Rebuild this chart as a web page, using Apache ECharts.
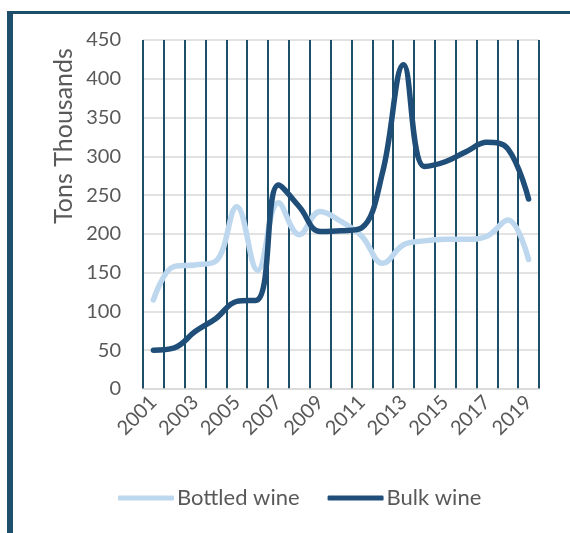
<!DOCTYPE html>
<html>
<head>
<meta charset="utf-8">
<script src="https://cdn.jsdelivr.net/npm/echarts@6/dist/echarts.min.js"></script>
<style>
  html, body { margin: 0; padding: 0; background: #fff; }
  #chart { width: 570px; height: 533px; }
</style>
</head>
<body>
<div id="chart"></div>
<script>
var chartDom = document.getElementById('chart');
var myChart = echarts.init(chartDom);

// data
const years = ['2001', '2002', '2003', '2004', '2005', '2006', '2007', '2008', '2009', '2010',
  '2011', '2012', '2013', '2014', '2015', '2016', '2017', '2018', '2019'];
const bottled = [115, 158, 160, 165, 235, 153, 240, 199, 229, 216, 197, 162, 186, 191, 193, 193, 197, 218, 167];
const bulk = [50, 53, 74, 91, 113, 115, 263, 235, 203, 204, 208, 280, 418, 287, 293, 306, 318, 310, 245];
const yTicks = [0, 450, 50]; // min, max, step

const frameColor = '#1d4f6b';
const font = 'Lato, "Open Sans", sans-serif';

var option = {
  animation: false,
  textStyle: { fontFamily: font },
  grid: { left: 143, right: 31, top: 40, bottom: 144 },
  graphic: [
    // dark frame on the left and top
    { type: 'rect', shape: { x: 7, y: 11, width: 6, height: 530 }, style: { fill: frameColor } },
    { type: 'rect', shape: { x: 7, y: 11, width: 570, height: 3 }, style: { fill: frameColor } },
    {
      type: 'text', x: 64, y: 136, rotation: Math.PI / 2,
      style: {
        text: 'Tons Thousands', fontSize: 25, fill: '#595959', fontFamily: font,
        align: 'center', verticalAlign: 'middle'
      }
    }
  ],
  legend: {
    bottom: 19,
    left: 113,
    icon: 'roundRect',
    itemWidth: 56,
    itemHeight: 5,
    itemGap: 28,
    textStyle: { fontSize: 22, color: '#595959', fontFamily: font, padding: [0, 0, 0, -2] },
    data: ['Bottled wine', 'Bulk wine']
  },
  xAxis: {
    type: 'category',
    data: years,
    boundaryGap: true,
    axisLine: { lineStyle: { color: '#d9d9d9', width: 1.5 } },
    axisTick: { show: false },
    splitLine: { show: true, interval: 0, lineStyle: { color: frameColor, width: 2 } },
    axisLabel: { interval: 1, rotate: 45, fontSize: 20, color: '#595959', margin: 10, fontFamily: font }
  },
  yAxis: {
    type: 'value',
    min: yTicks[0],
    max: yTicks[1],
    interval: yTicks[2],
    axisLine: { show: false },
    axisTick: { show: false },
    splitLine: { lineStyle: { color: '#d9d9d9', width: 1.5 } },
    axisLabel: { fontSize: 20, color: '#595959', margin: 22, fontFamily: font }
  },
  series: [
    {
      name: 'Bottled wine',
      type: 'line',
      data: bottled,
      smooth: 0.4,
      symbol: 'none',
      itemStyle: { color: '#bdd7ee' },
      lineStyle: { color: '#bdd7ee', width: 5.5, cap: 'round', join: 'round' }
    },
    {
      name: 'Bulk wine',
      type: 'line',
      data: bulk,
      smooth: 0.4,
      symbol: 'none',
      itemStyle: { color: '#1f4e79' },
      lineStyle: { color: '#1f4e79', width: 5.5, cap: 'round', join: 'round' }
    }
  ]
};

option && myChart.setOption(option);
</script>
</body>
</html>
